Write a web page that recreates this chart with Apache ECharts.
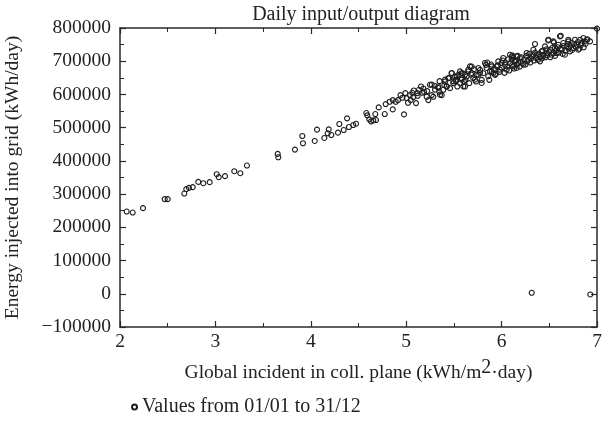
<!DOCTYPE html>
<html>
<head>
<meta charset="utf-8">
<script src="https://cdn.jsdelivr.net/npm/echarts@6/dist/echarts.min.js"></script>
<style>html,body{margin:0;padding:0;background:#fff;}#c{width:611px;height:430px;}</style>
</head>
<body>
<div id="c"></div>
<script>
const titleText = "Daily input/output diagram";
const xName = "Global incident in coll. plane (kWh/m";
const yName = "Energy injected into grid (kWh/day)";
const legendName = "Values from 01/01 to 31/12";
const xTicks = [2, 3, 4, 5, 6, 7];
const yTicks = [-100000, 0, 100000, 200000, 300000, 400000, 500000, 600000, 700000, 800000];

// Global incident irradiation (kWh/m²·day)
const irradiation = [
2.07,2.133,2.241,2.469,2.50,2.674,2.695,2.723,2.762,2.821,2.873,2.940,3.014,3.035,3.101,3.198,3.261,3.331,
3.653,3.659,3.834,3.911,3.918,4.041,4.065,4.142,4.188,4.177,4.215,4.285,4.299,4.345,4.380,4.400,4.445,4.474,
4.582,4.592,4.613,4.631,4.655,4.683,4.676,4.712,4.775,4.785,4.827,4.859,4.859,4.890,4.914,
4.977,4.991,5.005,5.019,5.040,5.047,5.064,5.074,5.103,5.116,5.134,5.155,5.169,5.187,5.215,5.232,5.249,5.267,
5.284,5.336,5.347,5.372,5.389,5.407,5.425,5.441,5.459,5.477,5.494,5.512,5.522,5.536,5.546,5.564,5.582,5.592,
5.606,5.616,5.634,5.651,5.661,5.687,5.703,5.732,5.756,5.774,5.792,5.808,5.836,5.850,5.871,5.896,5.931,
5.267,5.302,5.337,5.354,5.407,5.424,5.477,5.494,5.529,5.564,5.581,5.599,5.616,5.651,5.669,5.686,5.721,5.739,
5.756,5.774,5.791,5.826,5.843,5.878,5.896,5.913,5.948,5.965,5.983,6.000,6.017,6.035,6.053,6.088,6.106,6.122,
6.140,6.158,6.175,
6.105,6.140,6.158,6.193,6.228,6.263,6.281,6.316,6.333,6.368,6.403,6.420,6.437,6.455,6.473,6.490,6.507,6.525,
6.542,6.560,6.577,6.595,6.612,6.630,6.647,6.664,6.682,6.699,6.717,6.734,6.752,6.769,6.787,6.804,6.822,6.839,
6.857,6.874,6.892,6.927,6.815,6.699,
6.350,6.489,6.549,6.620,6.116,
5.86,5.89,5.92,5.94,5.96,5.98,6.00,6.01,6.03,6.04,6.06,6.07,6.08,6.09,6.11,6.12,6.13,6.15,6.16,6.17,6.19,6.20,
6.21,6.22,6.24,6.25,6.26,6.27,6.29,6.30,6.31,6.33,6.34,6.35,6.36,6.38,6.39,6.40,6.42,6.43,6.44,6.46,6.47,6.48,
6.50,6.51,6.53,6.54,6.56,6.57,6.59,6.60,6.62,6.64,6.65,6.67,6.69,6.70,6.72,6.74,6.76,6.78,6.80,6.83,6.86,6.88,
6.90,5.68,5.71,5.62,5.58,5.52,5.45,5.40,5.35,5.30,5.22,5.18,5.12,5.08,4.96,4.94,
7.00,6.316,6.93
];
// Energy injected into grid (kWh/day)
const energy = [
247500,244500,257800,285000,285000,301700,315000,318800,321000,336800,332900,336000,360000,351000,354000,369000,363000,386000,
421000,411000,434000,475000,453000,460000,494000,469000,495000,483000,478000,485000,511000,493000,528000,502000,508000,512000,
544000,537000,525000,519000,522000,523000,541000,561000,541000,571000,578000,583000,555000,578000,583000,
540000,604000,589000,575000,598000,583000,605000,592000,574000,604000,614000,624000,605000,608000,593000,583000,629000,598000,
593000,624000,608000,598000,614000,639000,624000,649000,619000,664000,634000,654000,644000,624000,659000,634000,649000,664000,
639000,624000,654000,669000,634000,684000,649000,639000,659000,674000,644000,664000,689000,696000,644000,669000,659000,
629500,614400,619500,599400,644500,624400,664700,639400,654400,669500,644500,624400,659600,674600,684500,664700,644500,659600,
679700,664700,634600,694700,679700,669500,684500,664700,684500,699600,674600,694700,709800,689600,674600,719700,704700,684500,
699600,714600,694700,
714600,699600,679700,709800,689600,724800,704700,714600,734700,719700,699600,729600,714600,744700,724800,764800,734700,719700,
759700,739800,724800,749800,774700,734700,754900,719700,744700,764800,729600,754900,739800,764800,749800,734700,764800,754900,
769900,759700,764800,759700,737700,759700,
751900,762700,756700,776800,716700,
655000,690000,676000,662000,688000,668000,680000,702000,665000,696000,684000,706000,672000,694000,688000,710000,678000,702000,690000,716000,684000,698000,
712000,694000,706000,690000,716000,700000,722000,696000,708000,718000,702000,726000,710000,704000,722000,714000,708000,732000,720000,712000,736000,718000,
728000,712000,740000,724000,716000,732000,742000,726000,738000,722000,746000,732000,752000,738000,746000,734000,752000,742000,758000,748000,742000,752000,
766000,660000,676000,644000,664000,640000,650000,628000,640000,626000,610000,618000,596000,612000,590000,598000,
798000,3000,-2000
];

const points = irradiation.map((x, i) => [x, energy[i]]);
const serif = "Liberation Serif";
const axisColor = "#2a2a2a";

const chart = echarts.init(document.getElementById('c'), null, {renderer: 'canvas'});
const fmtY = v => String(v).replace('-', '\u2212');

chart.setOption({
  backgroundColor: '#fff',
  animation: false,
  title: {
    text: titleText,
    left: 356, top: 0, textAlign: 'center',
    textStyle: {fontFamily: serif, fontSize: 20, fontWeight: 'normal', color: '#222'}
  },
  legend: {
    data: [legendName],
    left: 126, top: 392,
    itemWidth: 5, itemHeight: 5, itemGap: 4,
    textStyle: {fontFamily: serif, fontSize: 20, color: '#222'}
  },
  grid: {left: 120, right: 14, top: 28, bottom: 103, containLabel: false, outerBoundsMode: 'none'},
  xAxis: [{
    type: 'value', min: xTicks[0], max: xTicks[xTicks.length - 1], interval: 1,
    name: xName + '{sup|2}' + '\u00b7day)',
    nameLocation: 'middle', nameGap: 31,
    nameTextStyle: {fontFamily: serif, fontSize: 19.5, color: '#222', verticalAlign: 'top',
      rich: {sup: {fontFamily: serif, fontSize: 20, color: '#222', padding: [0, 0, 9, 0]}}},
    axisLine: {show: true, onZero: false, lineStyle: {color: axisColor, width: 1.5}},
    axisTick: {show: true, inside: true, length: 6, lineStyle: {color: axisColor, width: 1.2}},
    minorTick: {show: true, splitNumber: 2, length: 4, lineStyle: {color: axisColor, width: 1}},
    splitLine: {show: false},
    axisLabel: {fontFamily: serif, fontSize: 19.5, color: '#222', margin: 5}
  }, {
    type: 'value', position: 'top', min: xTicks[0], max: xTicks[xTicks.length - 1], interval: 1,
    axisLine: {show: true, onZero: false, lineStyle: {color: axisColor, width: 1.5}},
    axisTick: {show: true, inside: true, length: 6, lineStyle: {color: axisColor, width: 1.2}},
    minorTick: {show: true, splitNumber: 2, length: 4, lineStyle: {color: axisColor, width: 1}},
    splitLine: {show: false}, axisLabel: {show: false}
  }],
  yAxis: [{
    type: 'value', min: yTicks[0], max: yTicks[yTicks.length - 1], interval: 100000,
    name: yName, nameLocation: 'middle', nameGap: 97,
    nameTextStyle: {fontFamily: serif, fontSize: 19.5, color: '#222'},
    axisLine: {show: true, onZero: false, lineStyle: {color: axisColor, width: 1.5}},
    axisTick: {show: true, inside: true, length: 6, lineStyle: {color: axisColor, width: 1.2}},
    minorTick: {show: true, splitNumber: 2, length: 4, lineStyle: {color: axisColor, width: 1}},
    splitLine: {show: false},
    axisLabel: {fontFamily: serif, fontSize: 19.5, color: '#222', margin: 9, formatter: fmtY}
  }, {
    type: 'value', position: 'right', min: yTicks[0], max: yTicks[yTicks.length - 1], interval: 100000,
    axisLine: {show: true, onZero: false, lineStyle: {color: axisColor, width: 1.5}},
    axisTick: {show: true, inside: true, length: 6, lineStyle: {color: axisColor, width: 1.2}},
    minorTick: {show: true, splitNumber: 2, length: 4, lineStyle: {color: axisColor, width: 1}},
    splitLine: {show: false}, axisLabel: {show: false}
  }],
  series: [{
    name: legendName,
    type: 'scatter',
    xAxisIndex: 0, yAxisIndex: 0,
    data: points,
    clip: false,
    symbol: 'circle',
    symbolSize: 5,
    itemStyle: {color: 'rgba(255,255,255,0)', borderColor: '#1e1e1e', borderWidth: 1.1, opacity: 1}
  }]
});
</script>
</body>
</html>
